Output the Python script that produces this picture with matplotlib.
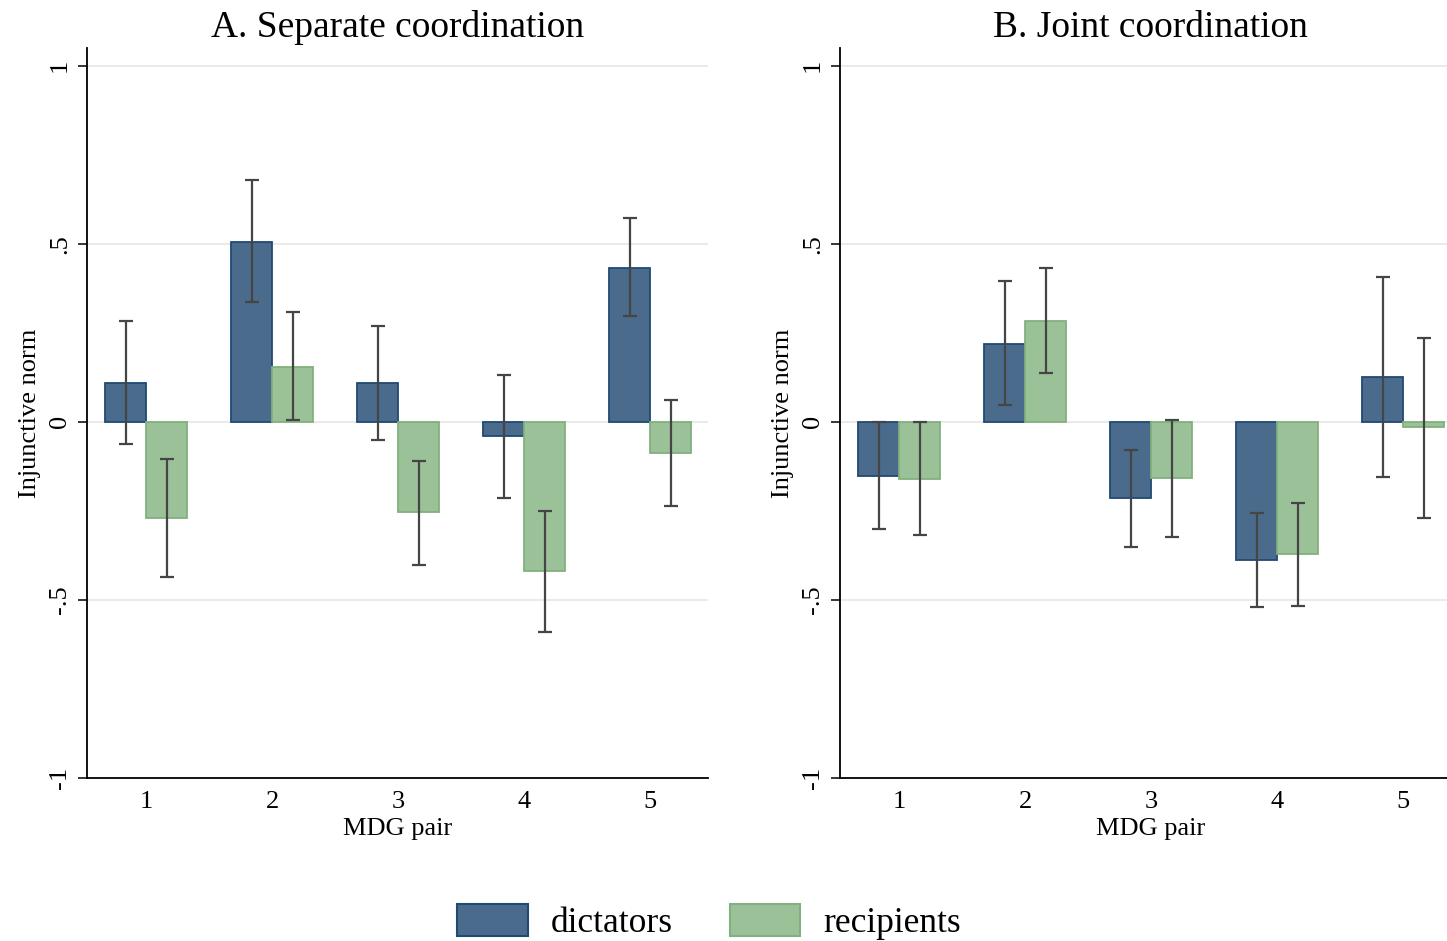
import matplotlib
matplotlib.use("Agg")
from matplotlib import pyplot as plt
from matplotlib.patches import Patch
import numpy as np

plt.rcParams["font.family"] = ["Liberation Serif", "DejaVu Serif"]

pairs = [1, 2, 3, 4, 5]
groups = ["dictators", "recipients"]

# A. Separate coordination: means and CI bounds
sep_dict = [0.109, 0.506, 0.108, -0.039, 0.433]
sep_dict_lo = [-0.063, 0.337, -0.051, -0.214, 0.298]
sep_dict_hi = [0.282, 0.680, 0.270, 0.133, 0.573]
sep_rec = [-0.271, 0.155, -0.253, -0.420, -0.086]
sep_rec_lo = [-0.436, 0.006, -0.401, -0.591, -0.237]
sep_rec_hi = [-0.105, 0.310, -0.109, -0.250, 0.062]

# B. Joint coordination
joint_dict = [-0.151, 0.218, -0.213, -0.388, 0.125]
joint_dict_lo = [-0.302, 0.047, -0.350, -0.521, -0.155]
joint_dict_hi = [-0.001, 0.395, -0.080, -0.257, 0.407]
joint_rec = [-0.159, 0.283, -0.158, -0.371, -0.015]
joint_rec_lo = [-0.319, 0.136, -0.323, -0.518, -0.270]
joint_rec_hi = [0.000, 0.432, 0.006, -0.228, 0.236]

fill_colors = ["#4a6b8b", "#9bc198"]
edge_colors = ["#1f4a72", "#82b07e"]
err_color = "#454545"
width = 0.325


def draw_panel(ax, title, series):
    x = np.array(pairs, dtype=float)
    offsets = [-width / 2, width / 2]
    for i, (mean, lo, hi) in enumerate(series):
        mean = np.array(mean)
        yerr = [mean - np.array(lo), np.array(hi) - mean]
        ax.bar(x + offsets[i], mean, width=width, color=fill_colors[i],
               edgecolor=edge_colors[i], linewidth=1.3, zorder=2)
        ax.errorbar(x + offsets[i], mean, yerr=yerr, fmt="none",
                    ecolor=err_color, elinewidth=1.6, capsize=5,
                    capthick=1.6, zorder=3)
    ax.set_xlim(0.53, 5.46)
    ax.set_ylim(-1, 1.05)
    ax.set_yticks([-1, -0.5, 0, 0.5, 1])
    ax.set_yticklabels(["-1", "-.5", "0", ".5", "1"], rotation=90, va="center")
    ax.set_xticks(pairs)
    ax.tick_params(axis="x", length=0, labelsize=19, pad=9)
    ax.tick_params(axis="y", length=6.5, width=1.1, labelsize=19, pad=5)
    for yv in [-0.5, 0, 0.5, 1]:
        ax.axhline(yv, color="#e6e6e6", linewidth=1.2, zorder=0)
    ax.spines["top"].set_visible(False)
    ax.spines["right"].set_visible(False)
    ax.spines["left"].set_linewidth(1.3)
    ax.spines["bottom"].set_linewidth(1.3)
    ax.set_xlabel("MDG pair", fontsize=19, labelpad=4)
    ax.set_ylabel("Injunctive norm", fontsize=19, labelpad=6)
    ax.set_title(title, fontsize=27, pad=8)


fig = plt.figure(figsize=(14.47, 9.41), dpi=100)
ax1 = fig.add_axes([87 / 1447, 163 / 941, 621 / 1447, 730 / 941])
ax2 = fig.add_axes([840 / 1447, 163 / 941, 621 / 1447, 730 / 941])

draw_panel(ax1, "A. Separate coordination",
           [(sep_dict, sep_dict_lo, sep_dict_hi), (sep_rec, sep_rec_lo, sep_rec_hi)])
draw_panel(ax2, "B. Joint coordination",
           [(joint_dict, joint_dict_lo, joint_dict_hi), (joint_rec, joint_rec_lo, joint_rec_hi)])

handles = [Patch(facecolor=fill_colors[i], edgecolor=edge_colors[i], linewidth=1.5)
           for i in range(2)]
fig.legend(handles, groups, loc="center", bbox_to_anchor=(0.49, 0.02), ncol=2,
           frameon=False, fontsize=25.5, handlelength=2.0, handleheight=1.0,
           handletextpad=0.65, columnspacing=1.6)

fig.savefig("out.png", dpi=100)
